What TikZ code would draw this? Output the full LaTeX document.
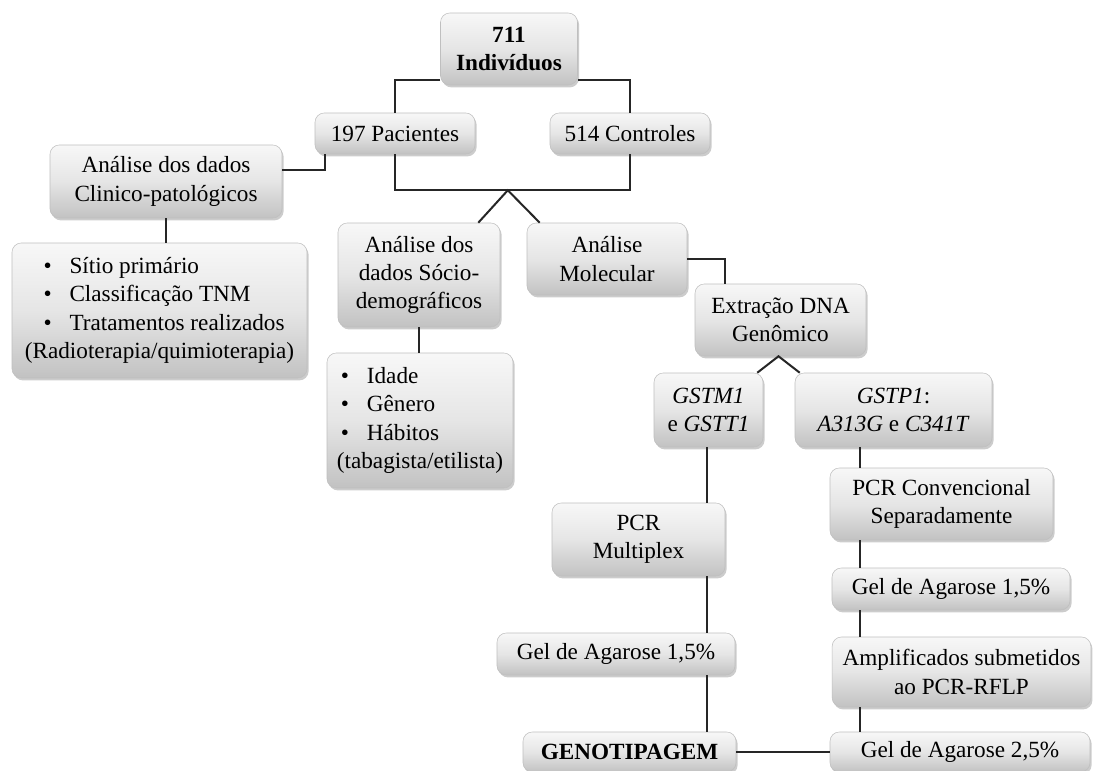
\documentclass[tikz,border=0pt]{standalone}
\usepackage{fontspec}
\setmainfont{Liberation Serif}
\usetikzlibrary{shadows,calc}
\newcommand{\fs}{\fontsize{17.4}{21.3}\selectfont}
\tikzset{
  box/.style={rounded corners=7pt, draw=gray!50, line width=0.4pt,
    top color=gray!6, bottom color=gray!48, middle color=gray!20,
    drop shadow={opacity=0.4, shadow xshift=1.2pt, shadow yshift=-1.8pt},
    align=center, inner sep=1pt, font=\fs},
  listbox/.style={box, align=left},
  conn/.style={draw=black!85, line width=1.5pt}
}
\newcommand{\bl}[1]{\hspace*{#1}\makebox[19.5pt][l]{•}}
\begin{document}
\begin{tikzpicture}[x=0.75pt,y=-0.75pt]
\useasboundingbox[fill=white] (0,0) rectangle (1093,771);

\node[box, minimum width=102.75pt, minimum height=54pt] (ind) at (509,49) {\textbf{711}\\\textbf{Indivíduos}};
\node[box, minimum width=120pt, minimum height=30.75pt] (pac) at (395,133.5) {197 Pacientes};
\node[box, minimum width=120pt, minimum height=30.75pt] (con) at (630,133.5) {514 Controles};
\node[box, minimum width=174pt, minimum height=54.75pt] (cli) at (166,181.5) {Análise dos dados\\Clinico-patológicos};
\node[listbox, minimum width=221.25pt, minimum height=101.25pt] (clil) at (159.5,310.5)
  {\bl{14pt}Sítio primário\\\bl{14pt}Classificação TNM\\\bl{14pt}Tratamentos realizados\\(Radioterapia/quimioterapia)};
\node[box, minimum width=121.5pt, minimum height=78pt] (soc) at (419,275) {Análise dos\\dados Sócio-\\demográficos};
\node[listbox, minimum width=139.5pt, minimum height=101.25pt] (socl) at (420,420.5)
  {\bl{3pt}Idade\\\bl{3pt}Gênero\\\bl{3pt}Hábitos\\(tabagista/etilista)};
\node[box, minimum width=120pt, minimum height=54pt] (mol) at (607,259) {Análise\\Molecular};
\node[box, minimum width=128.25pt, minimum height=54pt] (ext) at (780.5,320) {Extração DNA\\Genômico};
\node[box, minimum width=81.75pt, minimum height=55.5pt] (gm) at (708.5,410) {\textit{GSTM1}\\e \textit{GSTT1}};
\node[box, minimum width=147.75pt, minimum height=55.5pt] (gp) at (893.5,410) {\textit{GSTP1}:\\\textit{A313G} e \textit{C341T}};
\node[box, minimum width=129.75pt, minimum height=54.75pt] (pcrm) at (638.5,539.5) {PCR\\Multiplex};
\node[box, minimum width=178.5pt, minimum height=31.5pt] (gel1) at (616,654) {Gel de Agarose 1,5\%};
\node[box, minimum width=159.75pt, minimum height=30pt] (gen) at (629.5,752) {\textbf{GENOTIPAGEM}};
\node[box, minimum width=167.25pt, minimum height=54pt] (pcrc) at (941.5,504) {PCR Convencional\\Separadamente};
\node[box, minimum width=178.5pt, minimum height=31.5pt] (gel2) at (951,589) {Gel de Agarose 1,5\%};
\node[box, minimum width=194pt, minimum height=52.5pt] (amp) at (961.5,672) {Amplificados submetidos\\ao PCR-RFLP};
\node[box, minimum width=195pt, minimum height=30pt] (gel25) at (960,752) {Gel de Agarose 2,5\%};

% connectors
\draw[conn] ([yshift=4pt]ind.south west) -| (pac.north);
\draw[conn] ([yshift=4pt]ind.south east) -| (con.north);
\coordinate (j1) at ($(pac.south)!0.48!(con.south)+(0,36)$);
\draw[conn] (pac.south) |- (j1) -| (con.south);
\draw[conn] ([xshift=-16.5pt]soc.north east) -- (j1) -- ([xshift=9.75pt]mol.north west);
\draw[conn] ([xshift=-52.5pt]pac.south) |- ([yshift=9pt]cli.east);
\draw[conn] (cli.south) -- (cli.south |- clil.north);
\draw[conn] (soc.south) -- (soc.south |- socl.north);
\draw[conn] (mol.east) -| ([xshift=22.5pt]ext.north west);
\draw[conn] ([xshift=-4.5pt]gm.north east) -- ([xshift=-1.5pt]ext.south) -- ([xshift=3.75pt]gp.north west);
\coordinate (vl) at ([xshift=-1.5pt]gm.south);
\draw[conn] (vl) -- (vl |- pcrm.north);
\draw[conn] (vl |- pcrm.south) -- (vl |- gel1.north);
\draw[conn] (vl |- gel1.south) -- (vl |- gen.north);
\draw[conn] (gen.east) -- (gen.east -| gel25.west);
\coordinate (vr) at ([xshift=-25pt]gp.south);
\draw[conn] (vr) -- (vr |- pcrc.north);
\draw[conn] (vr |- pcrc.south) -- (vr |- gel2.north);
\draw[conn] (vr |- gel2.south) -- (vr |- amp.north);
\draw[conn] (vr |- amp.south) -- (vr |- gel25.north);
\end{tikzpicture}
\end{document}
